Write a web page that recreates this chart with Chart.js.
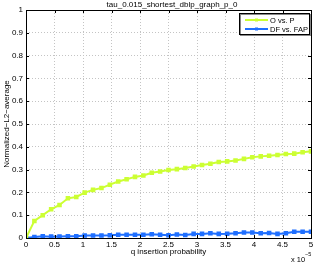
<!DOCTYPE html>
<html>
<head>
<meta charset="utf-8">
<script src="https://cdn.jsdelivr.net/npm/chart.js@4"></script>
<style>
  html, body { margin: 0; padding: 0; background: #fff; }
  #wrap { width: 315px; height: 263px; }
</style>
</head>
<body>
<div id="wrap"><canvas id="myChart" width="315" height="263"></canvas></div>
<script>
// q insertion probability (x 1e-5), 35 samples from 0 to 5
const xValues = [0, 0.147, 0.294, 0.441, 0.588, 0.735, 0.882, 1.029, 1.176, 1.324,
  1.471, 1.618, 1.765, 1.912, 2.059, 2.206, 2.353, 2.5, 2.647, 2.794,
  2.941, 3.088, 3.235, 3.382, 3.529, 3.676, 3.824, 3.971, 4.118, 4.265,
  4.412, 4.559, 4.706, 4.853, 5];
const oVsP = [0, 0.075, 0.100, 0.126, 0.145, 0.174, 0.180, 0.199, 0.211, 0.219,
  0.234, 0.248, 0.258, 0.268, 0.274, 0.286, 0.292, 0.298, 0.302, 0.307,
  0.314, 0.320, 0.326, 0.333, 0.336, 0.340, 0.347, 0.354, 0.358, 0.361,
  0.364, 0.368, 0.370, 0.376, 0.380];
const dfVsFap = [0, 0.004, 0.008, 0.006, 0.007, 0.008, 0.008, 0.011, 0.011, 0.011,
  0.012, 0.014, 0.014, 0.014, 0.014, 0.016, 0.014, 0.012, 0.015, 0.013,
  0.018, 0.018, 0.021, 0.018, 0.019, 0.021, 0.024, 0.024, 0.021, 0.022,
  0.018, 0.021, 0.027, 0.027, 0.027];
const seriesNames = ['O vs. P', 'DF vs. FAP'];
const chartTitle = 'tau_0.015_shortest_dblp_graph_p_0';
const xTitle = 'q insertion probability';
const yTitle = 'Normalized\u2212L2\u2212average';

const FONT = 'Liberation Sans, Arial, Helvetica, sans-serif';
const yellow = '#ccff33';
const blue = '#1f6fff';

function pts(ys) {
  return ys.map((y, i) => ({x: xValues[i], y: y}));
}

// frame, inner ticks, title, legend, exponent
const matlabLook = {
  id: 'matlabLook',
  afterDraw(chart) {
    const c = chart.ctx;
    const a = chart.chartArea;
    const xs = chart.scales.x, ys = chart.scales.y;
    c.save();
    c.strokeStyle = '#000';
    c.lineWidth = 1;
    c.strokeRect(Math.round(a.left) + 0.5, Math.round(a.top) + 0.5,
      Math.round(a.right - a.left), Math.round(a.bottom - a.top));
    c.beginPath();
    xs.ticks.forEach(t => {
      const px = Math.round(xs.getPixelForValue(t.value)) + 0.5;
      c.moveTo(px, a.bottom); c.lineTo(px, a.bottom - 3);
      c.moveTo(px, a.top); c.lineTo(px, a.top + 3);
    });
    ys.ticks.forEach(t => {
      const py = Math.round(ys.getPixelForValue(t.value)) + 0.5;
      c.moveTo(a.left, py); c.lineTo(a.left + 3, py);
      c.moveTo(a.right, py); c.lineTo(a.right - 3, py);
    });
    c.stroke();

    // title
    c.fillStyle = '#000';
    c.font = '8px ' + FONT;
    c.textAlign = 'center';
    c.textBaseline = 'middle';
    c.fillText(chartTitle, 172, 5);

    // legend
    const lx = 239, ly = 13, lw = 70, lh = 21;
    c.fillStyle = '#fff';
    c.fillRect(lx, ly, lw, lh);
    c.strokeStyle = '#888';
    c.strokeRect(lx + 1.5, ly + 1.5, lw, lh);
    c.strokeStyle = '#000';
    c.strokeRect(lx + 0.5, ly + 0.5, lw, lh);
    c.font = '7.5px ' + FONT;
    c.textBaseline = 'middle';
    c.textAlign = 'left';
    chart.data.datasets.forEach((ds, i) => {
      const yy = ly + 7 + i * 9;
      c.strokeStyle = ds.borderColor;
      c.lineWidth = 2;
      c.beginPath(); c.moveTo(lx + 6, yy); c.lineTo(lx + 29, yy); c.stroke();
      c.fillStyle = ds.borderColor;
      c.fillRect(lx + 16, yy - 1.5, 3, 3);
      c.fillStyle = '#000';
      c.fillText(ds.label, lx + 31, yy + 0.5);
    });

    // exponent
    c.fillStyle = '#000';
    c.font = '7.5px ' + FONT;
    c.textAlign = 'left';
    c.textBaseline = 'alphabetic';
    c.fillText('x 10', 291, 262);
    c.font = '5.5px ' + FONT;
    c.fillText('\u22125', 305, 256);
    c.restore();
  }
};

const ctx = document.getElementById('myChart');
const myChart = new Chart(ctx, {
  type: 'line',
  data: {
    datasets: [
      {
        label: seriesNames[0],
        data: pts(oVsP),
        borderColor: yellow,
        backgroundColor: yellow,
        borderWidth: 2,
        pointRadius: 1.8,
        pointStyle: 'rect',
        tension: 0
      },
      {
        label: seriesNames[1],
        data: pts(dfVsFap),
        borderColor: blue,
        backgroundColor: blue,
        borderWidth: 2,
        pointRadius: 1.8,
        pointStyle: 'rect',
        tension: 0
      }
    ]
  },
  options: {
    responsive: false,
    animation: false,
    devicePixelRatio: 1,
    layout: { autoPadding: false, padding: { left: 0, right: 0, top: 10, bottom: 0 } },
    scales: {
      x: {
        type: 'linear',
        min: 0, max: 5,
        afterFit: s => { s.height = 25; s.paddingRight = 4; s.paddingLeft = 0; },
        grid: { color: '#c4c4c4', drawTicks: false },
        border: { display: false, dash: [1, 2] },
        ticks: {
          stepSize: 0.5, padding: 2, color: '#000',
          font: { family: FONT, size: 8 },
          maxRotation: 0, autoSkip: false,
          callback: v => String(+v.toFixed(2))
        },
        title: {
          display: true, text: xTitle, color: '#000',
          font: { family: FONT, size: 8 },
          padding: { top: 0, bottom: 6 }
        }
      },
      y: {
        min: 0, max: 1,
        afterFit: s => { s.width = 26; },
        grid: { color: '#c4c4c4', drawTicks: false },
        border: { display: false, dash: [1, 2] },
        ticks: {
          stepSize: 0.1, padding: 3, color: '#000',
          font: { family: FONT, size: 8 },
          callback: v => String(+v.toFixed(2))
        },
        title: {
          display: true, text: yTitle, color: '#000',
          font: { family: FONT, size: 8 },
          padding: { top: 2, bottom: 0 }
        }
      }
    },
    plugins: {
      legend: { display: false },
      tooltip: { enabled: false }
    }
  },
  plugins: [matlabLook]
});
</script>
</body>
</html>
